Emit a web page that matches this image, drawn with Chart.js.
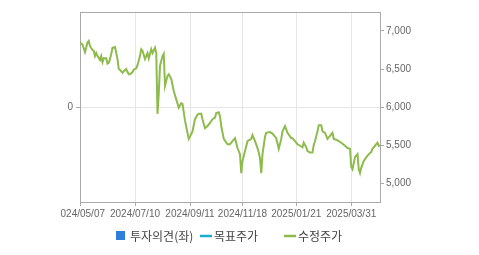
<!DOCTYPE html>
<html>
<head>
<meta charset="utf-8">
<script src="https://cdn.jsdelivr.net/npm/chart.js@4"></script>
<style>
  html, body { margin: 0; padding: 0; background: #fff; }
  #wrap { width: 479px; height: 255px; position: relative; }
</style>
</head>
<body>
<div id="wrap"><canvas id="myChart"></canvas></div>
<script>
// trading-day index (0 = 2024/05/07) and adjusted close
const priceDay = [0, 2, 4, 6, 7, 8, 10, 11, 12, 13, 14, 16, 17, 18, 19, 21, 22, 23, 24, 25,
  26, 28, 30, 31, 32, 34, 35, 37, 38, 39, 40, 42, 43, 45, 46, 48, 49, 50, 52, 54,
  55, 57, 58, 60, 61, 62, 63, 64, 66, 67, 68, 70, 71, 73, 75, 77, 79, 81, 82, 84,
  86, 87, 88, 90, 92, 94, 95, 97, 98, 100, 102, 104, 106, 108, 109, 111, 112, 113, 115, 118,
  120, 122, 124, 126, 128, 129, 130, 132, 134, 137, 138, 140, 142, 143, 144, 145, 146, 148, 149, 152,
  154, 157, 159, 161, 162, 164, 166, 169, 170, 172, 174, 176, 178, 179, 181, 182, 184, 186, 187, 188,
  190, 191, 193, 194, 196, 198, 200, 202, 203, 205, 207, 209, 212, 214, 216, 217, 218, 220, 222, 223,
  224, 225, 227, 230, 233, 234, 236, 238, 239, 240];
const price = [6850, 6820, 6720, 6850, 6870, 6800, 6750, 6740, 6670, 6710, 6670, 6620, 6670, 6590, 6640, 6640, 6570, 6580, 6630, 6700,
  6780, 6790, 6630, 6500, 6490, 6450, 6470, 6500, 6460, 6430, 6430, 6460, 6490, 6510, 6550, 6670, 6760, 6740, 6630, 6710,
  6640, 6760, 6710, 6780, 6710, 5910, 6180, 6540, 6670, 6700, 6280, 6410, 6430, 6370, 6210, 6100, 5990, 6050, 6040, 5820,
  5660, 5580, 5610, 5680, 5840, 5900, 5910, 5910, 5840, 5720, 5750, 5790, 5840, 5860, 5920, 5930, 5880, 5750, 5580, 5510,
  5510, 5550, 5590, 5460, 5380, 5130, 5290, 5420, 5550, 5580, 5630, 5550, 5460, 5400, 5330, 5130, 5380, 5610, 5660, 5670,
  5650, 5590, 5450, 5580, 5680, 5750, 5660, 5590, 5590, 5550, 5510, 5490, 5470, 5530, 5470, 5420, 5400, 5400, 5500, 5550,
  5680, 5760, 5760, 5680, 5660, 5580, 5620, 5660, 5580, 5570, 5550, 5530, 5490, 5460, 5450, 5210, 5180, 5340, 5380, 5180,
  5130, 5200, 5290, 5360, 5410, 5450, 5490, 5530, 5490, 5500];
const opinion = [];
const targetPrice = [];

const tickDays = [0, 44, 88, 130, 173, 217];
const tickLabels = ['2024/05/07', '2024/07/10', '2024/09/11', '2024/11/18', '2025/01/21', '2025/03/31'];
const rightTicks = [5000, 5500, 6000, 6500, 7000];

const tickFont = { family: "'Liberation Sans', Arial, sans-serif", size: 10 };

// draws the legend in fixed-width cells like the original
const fixedLegend = {
  id: 'fixedLegend',
  afterDraw(chart) {
    const ctx = chart.ctx;
    const area = chart.chartArea;
    ctx.save();
    // hide the part of the first date label that the original cuts off
    ctx.fillStyle = '#fff';
    ctx.fillRect(0, area.bottom + 2, 60, 22);
    // frame top
    ctx.strokeStyle = '#aaa';
    ctx.lineWidth = 1;
    ctx.beginPath();
    ctx.moveTo(area.left, Math.round(area.top) + 0.5);
    ctx.lineTo(area.right, Math.round(area.top) + 0.5);
    ctx.stroke();

    let x = 116;
    const y = 236;
    ctx.font = "12px 'Noto Sans CJK KR', sans-serif";
    ctx.textBaseline = 'middle';
    chart.data.datasets.forEach(ds => {
      if (ds.type === 'bar') {
        ctx.fillStyle = ds.backgroundColor;
        ctx.fillRect(x, y - 5, 9, 9);
      } else {
        ctx.strokeStyle = ds.borderColor;
        ctx.lineWidth = 2.5;
        ctx.beginPath();
        ctx.moveTo(x, y);
        ctx.lineTo(x + 12, y);
        ctx.stroke();
      }
      ctx.fillStyle = '#444';
      ctx.fillText(ds.label, x + 14, y);
      x += 84;
    });
    ctx.restore();
  }
};

const ctx = document.getElementById('myChart').getContext('2d');
new Chart(ctx, {
  data: {
    datasets: [
      {
        type: 'bar',
        label: '투자의견(좌)',
        data: opinion,
        backgroundColor: '#2f7ed8',
        yAxisID: 'yL'
      },
      {
        type: 'line',
        label: '목표주가',
        data: targetPrice,
        borderColor: '#1aadce',
        yAxisID: 'yR'
      },
      {
        type: 'line',
        label: '수정주가',
        data: priceDay.map((d, i) => ({ x: d, y: price[i] })),
        borderColor: '#8dbb4c',
        borderWidth: 2,
        pointRadius: 0,
        tension: 0,
        yAxisID: 'yR'
      }
    ]
  },
  options: {
    responsive: true,
    maintainAspectRatio: false,
    animation: false,
    layout: { padding: { top: 12, bottom: 33, left: 0, right: 0 } },
    plugins: {
      legend: { display: false },
      tooltip: { enabled: false }
    },
    scales: {
      x: {
        type: 'linear',
        min: 0,
        max: 240,
        offset: false,
        afterBuildTicks: s => { s.ticks = tickDays.map(v => ({ value: v })); },
        afterFit: s => { s.height = 20; },
        ticks: {
          autoSkip: false,
          maxRotation: 0,
          padding: 2,
          color: '#666',
          font: tickFont,
          callback: v => tickLabels[tickDays.indexOf(v)]
        },
        grid: { color: '#e6e6e6', tickColor: '#aaa', tickLength: 4, offset: false },
        border: { color: '#aaa' }
      },
      yL: {
        position: 'left',
        min: -1,
        max: 1,
        afterBuildTicks: s => { s.ticks = [{ value: 0 }]; },
        afterFit: s => { s.width = 80; },
        ticks: { color: '#666', font: tickFont, padding: 3 },
        grid: { color: '#e6e6e6', tickColor: '#aaa', tickLength: 4 },
        border: { color: '#aaa' }
      },
      yR: {
        position: 'right',
        min: 4750,
        max: 7250,
        afterBuildTicks: s => { s.ticks = rightTicks.map(v => ({ value: v })); },
        afterFit: s => { s.width = 99; },
        ticks: {
          color: '#666',
          font: tickFont,
          padding: 2,
          callback: v => v.toLocaleString('en-US')
        },
        grid: { drawOnChartArea: false, tickColor: '#aaa', tickLength: 4 },
        border: { color: '#aaa' }
      }
    }
  },
  plugins: [fixedLegend]
});
</script>
</body>
</html>
